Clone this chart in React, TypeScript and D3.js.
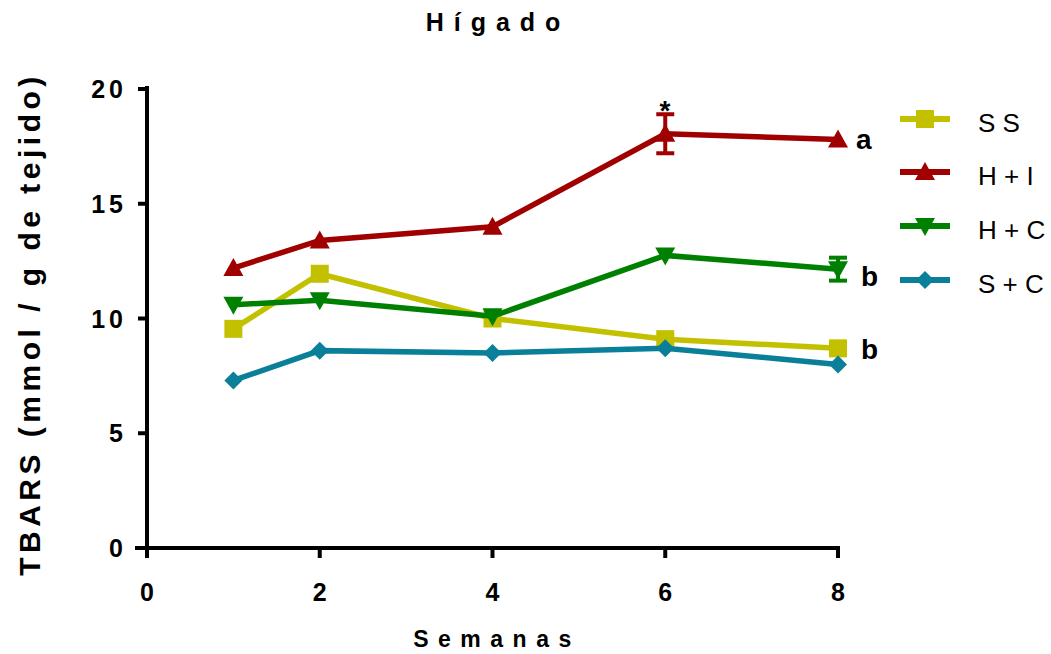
import React from "react";
import * as d3 from "d3";

const weeks = [1, 2, 4, 6, 8];
const seriesNames = ["S S", "H + I", "H + C", "S + C"];
const ssValues = [9.55, 11.95, 10.0, 9.1, 8.7];
const hiValues = [12.2, 13.4, 14.0, 18.05, 17.8];
const hcValues = [10.6, 10.8, 10.1, 12.75, 12.15];
const scValues = [7.3, 8.6, 8.5, 8.7, 8.0];
const hiErrors = [0, 0, 0, 0.85, 0];
const hcErrors = [0, 0, 0, 0, 0.5];
const xTicks = [0, 2, 4, 6, 8];
const yTicks = [0, 5, 10, 15, 20];

const colors = ["#c3c000", "#a00000", "#008000", "#0a7f99"];
const symbols = ["square", "up", "down", "diamond"];

const W = 1051;
const H = 654;
const x = d3.scaleLinear().domain([0, 8]).range([147, 838]);
const y = d3.scaleLinear().domain([0, 20]).range([548, 89]);

const font = "Arial, 'Liberation Sans', Helvetica, sans-serif";

function Marker({ kind, cx, cy, color }: { kind: string; cx: number; cy: number; color: string }) {
  const s = 9;
  if (kind === "square") return <rect x={cx - s} y={cy - s} width={2 * s} height={2 * s} fill={color} />;
  if (kind === "up")
    return <path d={`M${cx},${cy - s - 1}L${cx + s + 1},${cy + s - 1}L${cx - s - 1},${cy + s - 1}Z`} fill={color} />;
  if (kind === "down")
    return <path d={`M${cx},${cy + s + 1}L${cx + s + 1},${cy - s + 1}L${cx - s - 1},${cy - s + 1}Z`} fill={color} />;
  return <path d={`M${cx},${cy - s}L${cx + s},${cy}L${cx},${cy + s}L${cx - s},${cy}Z`} fill={color} />;
}

export default function App() {
  const data = [ssValues, hiValues, hcValues, scValues];
  const errors = [null, hiErrors, hcErrors, null];
  const line = d3
    .line<number>()
    .x((_, i) => x(weeks[i]))
    .y((v) => y(v));
  const order = [0, 1, 2, 3];
  const legendY = [119, 172, 226, 280];

  return (
    <svg width={W} height={H} style={{ position: "absolute", left: 0, top: 0 }} fontFamily={font}>
      <rect width={W} height={H} fill="#fff" />
      <text x={498} y={31} textAnchor="middle" fontSize={25} fontWeight="bold" letterSpacing={10}>
        Hígado
      </text>

      {/* axes */}
      <line x1={147} x2={147} y1={86} y2={554} stroke="#000" strokeWidth={4} />
      <line x1={135} x2={840} y1={y(0)} y2={y(0)} stroke="#000" strokeWidth={4} />
      {yTicks.map((t) => (
        <g key={"y" + t}>
          <line x1={138} x2={147} y1={y(t)} y2={y(t)} stroke="#000" strokeWidth={4} />
          <text x={127} y={y(t) + 9} textAnchor="end" fontSize={25} fontWeight="bold" letterSpacing={4}>
            {t}
          </text>
        </g>
      ))}
      {xTicks.map((t) => (
        <g key={"x" + t}>
          <line x1={x(t)} x2={x(t)} y1={y(0)} y2={y(0) + 10} stroke="#000" strokeWidth={4} />
          <text x={x(t)} y={601} textAnchor="middle" fontSize={25} fontWeight="bold">
            {t}
          </text>
        </g>
      ))}
      <text x={497} y={647} textAnchor="middle" fontSize={23} fontWeight="bold" letterSpacing={9.5}>
        Semanas
      </text>
      <text
        transform={`translate(40,324) rotate(-90)`}
        textAnchor="middle"
        fontSize={30}
        fontWeight="bold"
        letterSpacing={4.5}
      >
        TBARS (mmol / g de tejido)
      </text>

      {/* error bars */}
      {order.map((si) =>
        errors[si]
          ? (errors[si] as number[]).map((e, i) =>
              e > 0 ? (
                <g key={`e${si}-${i}`} stroke={colors[si]} strokeWidth={4}>
                  <line x1={x(weeks[i])} x2={x(weeks[i])} y1={y(data[si][i] + e)} y2={y(data[si][i] - e)} />
                  <line x1={x(weeks[i]) - 9} x2={x(weeks[i]) + 9} y1={y(data[si][i] + e)} y2={y(data[si][i] + e)} />
                  <line x1={x(weeks[i]) - 9} x2={x(weeks[i]) + 9} y1={y(data[si][i] - e)} y2={y(data[si][i] - e)} />
                </g>
              ) : null
            )
          : null
      )}

      {/* series */}
      {order.map((si) => (
        <g key={"s" + si}>
          <path d={line(data[si]) || ""} fill="none" stroke={colors[si]} strokeWidth={5.5} />
          {data[si].map((v, i) => (
            <Marker key={i} kind={symbols[si]} cx={x(weeks[i])} cy={y(v)} color={colors[si]} />
          ))}
        </g>
      ))}

      {/* annotations */}
      <text x={665} y={120} textAnchor="middle" fontSize={28} fontWeight="bold">
        *
      </text>
      <text x={856} y={149} fontSize={28} fontWeight="bold">a</text>
      <text x={861} y={286} fontSize={28} fontWeight="bold">b</text>
      <text x={861} y={359} fontSize={28} fontWeight="bold">b</text>

      {/* legend */}
      {order.map((si) => (
        <g key={"l" + si}>
          <line x1={900} x2={950} y1={legendY[si]} y2={legendY[si]} stroke={colors[si]} strokeWidth={6} />
          <Marker kind={symbols[si]} cx={925} cy={legendY[si]} color={colors[si]} />
          <text x={978} y={legendY[si] + 13} fontSize={26}>
            {seriesNames[si]}
          </text>
        </g>
      ))}
    </svg>
  );
}
